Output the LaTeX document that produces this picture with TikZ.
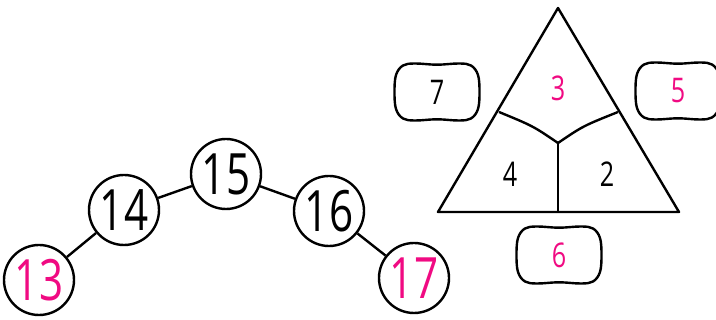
\documentclass[tikz,border=0pt]{standalone}
\usepackage{fontspec}
\setmainfont[FakeStretch=0.74]{Open Sans}
\definecolor{hotpink}{RGB}{240,10,130}
\newcommand\blobaround[1]{\draw[edge,shift={(#1.center)}] plot[smooth cycle,tension=0.6] coordinates
  {(0,-27.3) (22,-28.5) (34,-26.5) (41,-17) (42.5,0) (41,17) (34,26.5) (22,28.5)
   (0,27.3) (-22,28.5) (-34,26.5) (-41,17) (-42.5,0) (-41,-17) (-34,-26.5) (-22,-28.5)};}
\begin{document}
\begin{tikzpicture}[x=1pt,y=-1pt,
  num/.style={circle,draw,line width=2.4pt,minimum size=70pt,inner sep=0pt,
    font=\fontsize{57}{57}\selectfont},
  lbl/.style={inner sep=0pt,font=\fontsize{34}{34}\selectfont},
  edge/.style={line width=2.4pt}]
\useasboundingbox (0,0) rectangle (716,320);
% chain of circles
\node[num,text=hotpink] (n13) at (39,280) {13};
\node[num] (n14) at (124,210) {14};
\node[num] (n15) at (226,174) {15};
\node[num] (n16) at (329,211) {16};
\node[num,text=hotpink] (n17) at (414,278) {17};
\draw[edge] (n13) -- (n14);
\draw[edge] (n14) -- (n15);
\draw[edge] (n15) -- (n16);
\draw[edge] (n16) -- (n17);
% triangle
\coordinate (A) at (558,8);
\coordinate (BL) at (438,212);
\coordinate (BR) at (679,212);
\coordinate (C) at (558,143);
\coordinate (L) at (499,112);
\coordinate (R) at (618,112);
\coordinate (M) at (558,212);
\draw[edge,line join=round] (A) -- (BR) -- (BL) -- cycle;
\draw[edge] (L) .. controls (533,126) .. (C);
\draw[edge] (R) .. controls (583,126) .. (C);
\draw[edge] (C) -- (M);
\node[lbl,text=hotpink] (t3) at (558,88) {3};
\node[lbl] (t4) at (510,174) {4};
\node[lbl] (t2) at (607,174) {2};
% blobs
\node[lbl] (b7) at (437,92) {7};
\node[lbl,text=hotpink] (b5) at (678,91) {5};
\node[lbl,text=hotpink] (b6) at (559,255) {6};
\blobaround{b7}
\blobaround{b5}
\blobaround{b6}
\end{tikzpicture}
\end{document}
